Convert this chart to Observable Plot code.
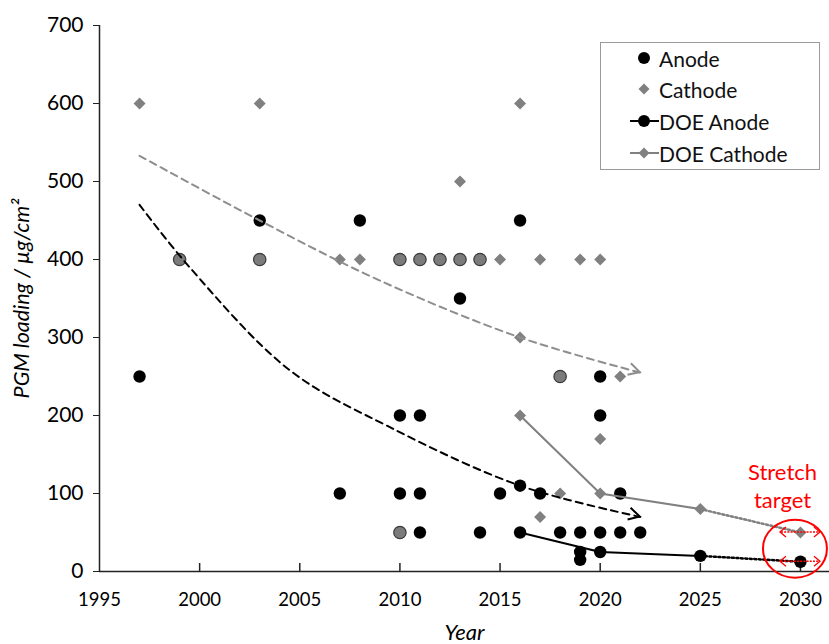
<!DOCTYPE html>
<html>
<head>
<meta charset="utf-8">
<script src="https://cdn.jsdelivr.net/npm/d3@7"></script>
<script src="https://cdn.jsdelivr.net/npm/@observablehq/plot@0.6"></script>
<style>
  body { margin: 0; background: #fff; }
  #wrap { position: relative; width: 829px; height: 644px; font-family: Lato, "Open Sans", sans-serif; }
  #legend { position: absolute; left: 600px; top: 42px; width: 218px; height: 126px; border: 1px solid #9a9a9a; background: #fff; }
  .row { position: absolute; left: 0; height: 30px; display: flex; align-items: center; font-size: 21px; color: #111; }
  .row svg { width: 58px; height: 30px; flex: none; }
</style>
</head>
<body>
<div id="wrap"></div>
<script>
// ---- data ----
const anodeYear    = [1997,1999,2003,2003,2007,2008,2010,2010,2010,2010,2011,2011,2011,2011,2012,2013,2013,2014,2014,2015,2016,2016,2017,2018,2018,2019,2019,2019,2020,2020,2020,2021,2021,2022];
const anodeLoading = [ 250, 400, 450, 400, 100, 450, 400, 200, 100,  50, 400, 200, 100,  50, 400, 400, 350, 400,  50, 100, 450, 110, 100, 250,  50,  50,  25,  15, 250, 200,  50, 100,  50,  50];

const cathodeYear    = [1997,1999,2003,2003,2007,2008,2010,2010,2011,2012,2013,2013,2014,2015,2016,2016,2017,2017,2018,2018,2019,2020,2020,2021];
const cathodeLoading = [ 600, 400, 600, 400, 400, 400, 400,  50, 400, 400, 500, 400, 400, 400, 600, 300, 400,  70, 250, 100, 400, 400, 170, 250];

const doeYear    = [2016, 2020, 2025];
const doeAnode   = [50, 25, 20];
const doeCathode = [200, 100, 80];

const stretchYear    = 2030;
const stretchAnode   = 12.5;
const stretchCathode = 50;

const anodeTrendYear    = [1997, 1999.5, 2004.5, 2009.5, 2016, 2022];
const anodeTrendValue   = [470, 390, 258, 185, 110, 70];
const cathodeTrendYear  = [1997, 2003, 2009, 2016, 2022];
const cathodeTrendValue = [533, 450, 373, 300, 255];

const xTicks = [1995, 2000, 2005, 2010, 2015, 2020, 2025, 2030];
const yTicks = [0, 100, 200, 300, 400, 500, 600, 700];

const legendLabels = ["Anode", "Cathode", "DOE Anode", "DOE Cathode"];
const stretchLabel = "Stretch\ntarget";

// ---- tables built from the arrays ----
const zip = (xs, ys) => xs.map((x, i) => ({x, y: ys[i]}));
const anode = zip(anodeYear, anodeLoading);
const cathode = zip(cathodeYear, cathodeLoading);
const key = d => d.x + ":" + d.y;
const cathodeKeys = new Set(cathode.map(key));
const anodeKeys = new Set(anode.map(key));
const both = anode.filter(d => cathodeKeys.has(key(d)));
const anodeOnly = anode.filter(d => !cathodeKeys.has(key(d)));
const cathodeOnly = cathode.filter(d => !anodeKeys.has(key(d)));
const doeA = zip(doeYear, doeAnode);
const doeC = zip(doeYear, doeCathode);
const extA = [doeA[doeA.length - 1], {x: stretchYear, y: stretchAnode}];
const extC = [doeC[doeC.length - 1], {x: stretchYear, y: stretchCathode}];
const trendA = zip(anodeTrendYear, anodeTrendValue);
const trendC = zip(cathodeTrendYear, cathodeTrendValue);

const BLACK = "#000000", GRAY = "#808080", TGRAY = "#8e8e8e", RED = "#ff0000";

function headPath(x1, y1, x2, y2, L, W) {
  const a = Math.atan2(y2 - y1, x2 - x1), c = Math.cos(a), s = Math.sin(a);
  const bx = x2 - L * c, by = y2 - L * s;
  return `M${bx - W * s},${by + W * c}L${x2},${y2}L${bx + W * s},${by - W * c}`;
}

function trendHead(rows, color) {
  return (index, scales) => {
    const a = rows[rows.length - 2], b = rows[rows.length - 1];
    const g = d3.create("svg:g");
    g.append("path")
      .attr("d", headPath(scales.x(a.x), scales.y(a.y), scales.x(b.x), scales.y(b.y), 11, 6))
      .attr("fill", "none").attr("stroke", color).attr("stroke-width", 2)
      .attr("stroke-linejoin", "miter");
    return g.node();
  };
}

function stretchMarks(index, scales) {
  const g = d3.create("svg:g");
  const cx = scales.x(stretchYear);
  for (const v of [stretchAnode, stretchCathode]) {
    const cy = scales.y(v);
    g.append("line").attr("x1", cx - 19).attr("x2", cx + 19).attr("y1", cy).attr("y2", cy)
      .attr("stroke", RED).attr("stroke-width", 1.3).attr("stroke-dasharray", "2,1.2");
    g.append("path").attr("d", headPath(cx, cy, cx - 20, cy, 6, 5))
      .attr("fill", "none").attr("stroke", RED).attr("stroke-width", 1.3);
    g.append("path").attr("d", headPath(cx, cy, cx + 20, cy, 6, 5))
      .attr("fill", "none").attr("stroke", RED).attr("stroke-width", 1.3);
  }
  const cy = (scales.y(stretchAnode) + scales.y(stretchCathode)) / 2;
  g.append("ellipse").attr("cx", cx - 5).attr("cy", cy + 2).attr("rx", 32).attr("ry", 29)
    .attr("fill", "none").attr("stroke", RED).attr("stroke-width", 2);
  return g.node();
}

const chart = Plot.plot({
  width: 829,
  height: 644,
  marginLeft: 99,
  marginRight: 0,
  marginTop: 25,
  marginBottom: 73,
  x: {domain: [1995, 2031.45]},
  y: {domain: [0, 700]},
  style: {fontFamily: "Lato, 'Open Sans', sans-serif", fontSize: "18px", color: "#000", background: "#fff", overflow: "visible"},
  marks: [
    // axes
    Plot.axisY(yTicks, {tickSize: 6, tickPadding: 10, label: null, stroke: "#222", fontSize: 21}),
    Plot.axisX(xTicks, {tickSize: 0, tickPadding: 21, label: null, tickFormat: d => String(d), fontSize: 18.5}),
    Plot.tickX(xTicks.slice(1), {x: d => d, insetTop: 538, stroke: "#222", strokeWidth: 1.5}),
    Plot.ruleX([1995], {stroke: "#222", strokeWidth: 1.5}),
    Plot.ruleY([0], {stroke: "#222", strokeWidth: 1.5}),
    Plot.text(["Year"], {frameAnchor: "bottom", dy: 61, fontStyle: "italic", fontSize: 22, lineAnchor: "middle"}),
    Plot.text(["PGM loading / µg/cm²"], {frameAnchor: "left", dx: -77, rotate: -90, textAnchor: "middle", fontStyle: "italic", fontSize: 21.5}),

    // scatter
    Plot.dot(anodeOnly, {x: "x", y: "y", r: 6.2, fill: BLACK}),
    Plot.dot(cathodeOnly, {x: "x", y: "y", r: 5.4, symbol: "diamond2", fill: GRAY}),
    Plot.dot(both, {x: "x", y: "y", r: 6.2, fill: "#7b7b7b", stroke: "#3a3a3a", strokeWidth: 1.2}),

    // DOE targets
    Plot.line(doeC, {x: "x", y: "y", stroke: GRAY, strokeWidth: 2}),
    Plot.line(extC, {x: "x", y: "y", stroke: GRAY, strokeWidth: 2.5, strokeDasharray: "2,2.5"}),
    Plot.dot([...doeC, extC[1]], {x: "x", y: "y", r: 5.4, symbol: "diamond2", fill: GRAY}),
    Plot.line(doeA, {x: "x", y: "y", stroke: BLACK, strokeWidth: 2}),
    Plot.line(extA, {x: "x", y: "y", stroke: BLACK, strokeWidth: 2.5, strokeDasharray: "2,2.5"}),
    Plot.dot([...doeA, extA[1]], {x: "x", y: "y", r: 6.2, fill: BLACK}),

    // trend arrows
    Plot.line(trendC, {x: "x", y: "y", curve: "catmull-rom", stroke: TGRAY, strokeWidth: 2, strokeDasharray: "7,5"}),
    trendHead(trendC, TGRAY),
    Plot.line(trendA, {x: "x", y: "y", curve: "catmull-rom", stroke: BLACK, strokeWidth: 2, strokeDasharray: "7,5"}),
    trendHead(trendA, BLACK),

    // stretch target
    stretchMarks,
    Plot.text([stretchLabel], {frameAnchor: "bottom-right", dx: -47, dy: -64, textAnchor: "middle", lineAnchor: "bottom", lineHeight: 1.27, fill: RED, fontSize: 22})
  ]
});

const wrap = document.getElementById("wrap");
wrap.appendChild(chart);

// legend
const legend = document.createElement("div");
legend.id = "legend";
const symbols = [
  `<circle cx="43" cy="15" r="6" fill="${BLACK}"/>`,
  `<path d="M43,9.5L48.5,15L43,20.5L37.5,15Z" fill="${GRAY}"/>`,
  `<line x1="29" x2="58" y1="15" y2="15" stroke="${BLACK}" stroke-width="2"/><circle cx="43" cy="15" r="6" fill="${BLACK}"/>`,
  `<line x1="29" x2="58" y1="15" y2="15" stroke="${GRAY}" stroke-width="2"/><path d="M43,9.5L48.5,15L43,20.5L37.5,15Z" fill="${GRAY}"/>`
];
const rowTops = [0, 31, 63, 95];
legendLabels.forEach((label, i) => {
  const row = document.createElement("div");
  row.className = "row";
  row.style.top = rowTops[i] + "px";
  row.innerHTML = `<svg viewBox="0 0 58 30">${symbols[i]}</svg><span>${label}</span>`;
  legend.appendChild(row);
});
wrap.appendChild(legend);
</script>
</body>
</html>
